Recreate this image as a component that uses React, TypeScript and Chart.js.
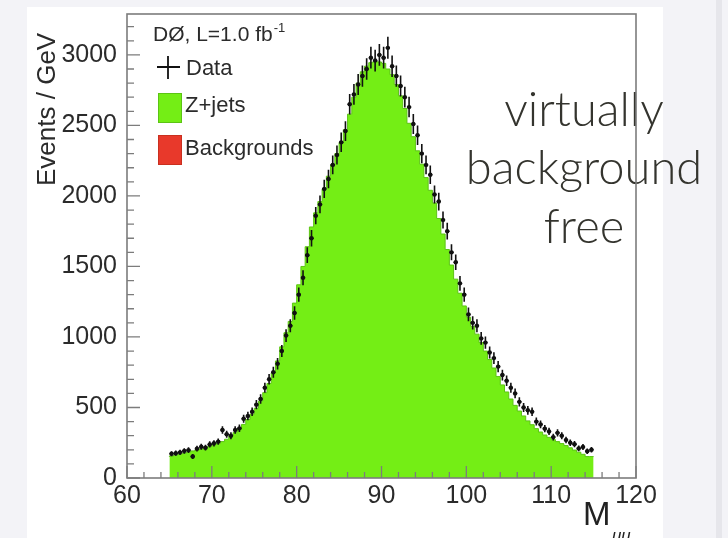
import React, { useEffect, useRef } from "react";
import { Chart, registerables } from "chart.js";

Chart.register(...registerables);

// Histogram binning (GeV)
const BIN_LOW = 65;
const BIN_WIDTH = 0.5;

// Z+jets simulation, Events / GeV, one value per 0.5 GeV bin from 65 to 115 GeV
const zJetsMC = [
  150, 156, 162, 168, 175, 184, 192, 199, 206, 214,
  224, 234, 244, 258, 275, 298, 322, 350, 380, 415,
  452, 495, 545, 605, 670, 745, 830, 930, 1030, 1110,
  1240, 1370, 1500, 1640, 1780, 1880, 1960, 2050, 2140, 2220,
  2300, 2380, 2470, 2580, 2700, 2800, 2880, 2920, 2945, 2955,
  2950, 2940, 2900, 2860, 2790, 2710, 2620, 2515, 2420, 2320,
  2225, 2130, 2040, 1950, 1840, 1730, 1620, 1510, 1410, 1310,
  1220, 1140, 1075, 1020, 960, 900, 840, 780, 720, 660,
  610, 560, 515, 475, 440, 405, 378, 350, 326, 305,
  288, 272, 258, 244, 230, 214, 198, 183, 168, 152,
];

// DØ data, Events / GeV, same bins
const dataValues = [
  172, 176, 182, 192, 198, 152, 208, 222, 215, 238,
  246, 258, 340, 310, 300, 340, 352, 420, 440, 470,
  520, 560, 640, 700, 750, 810, 900, 1010, 1080, 1170,
  1300, 1420, 1580, 1700, 1860, 1940, 2050, 2120, 2220, 2290,
  2380, 2460, 2650, 2720, 2790, 2850, 2900, 2980, 2960, 3000,
  2980, 3050, 2920, 2850, 2780, 2700, 2630, 2510, 2430, 2300,
  2220, 2150, 2010, 1960, 1830, 1750, 1600, 1530, 1380, 1300,
  1160, 1100, 1080, 990, 960, 890, 850, 790, 730, 690,
  640, 600, 540, 500, 480, 470, 400, 380, 350, 330,
  290, 320, 300, 270, 250, 240, 210, 220, 190, 200,
];

// Axes
const xTickValues = [60, 70, 80, 90, 100, 110, 120];
const yTickValues = [0, 500, 1000, 1500, 2000, 2500, 3000];
const X_MIN = 60;
const X_MAX = 120;
const X_MAJOR = 10;
const X_MINOR = 2;
const Y_MIN = 0;
const Y_MAX = 3290;
const Y_MAJOR = 500;
const Y_MINOR = 100;

// Texts
const legendHeader = "DØ, L=1.0 fb";
const legendHeaderSup = "-1";
const legendLabels = ["Data", "Z+jets", "Backgrounds"];
const yTitle = "Events / GeV";
const xTitle = "M";
const xTitleSub = "μμ";
const sideText = ["virtually", "background", "free"];

const GREEN = "#74ee15";
const GREEN_EDGE = "#5cc414";
const RED = "#e8392b";
const ROOT_FONT = "'Liberation Sans', Arial, Helvetica, sans-serif";

const rootPlugin = {
  id: "rootStyle",
  beforeDraw(chart: any) {
    const ctx = chart.ctx;
    ctx.save();
    ctx.fillStyle = "#f3f3f7";
    ctx.fillRect(0, 0, chart.width, chart.height);
    ctx.fillStyle = "#e6e6eb";
    ctx.fillRect(716, 0, 6, chart.height);
    ctx.fillStyle = "#ffffff";
    ctx.fillRect(27, 7, 636, chart.height - 7);
    ctx.restore();
  },
  afterDatasetsDraw(chart: any) {
    const ctx = chart.ctx;
    const xs = chart.scales.x;
    const ys = chart.scales.y;
    ctx.save();
    ctx.strokeStyle = "#111";
    ctx.lineWidth = 1.6;
    dataValues.forEach((v, i) => {
      const c = BIN_LOW + BIN_WIDTH * (i + 0.5);
      const err = Math.sqrt(v * BIN_WIDTH) / BIN_WIDTH;
      const px = xs.getPixelForValue(c);
      const py = ys.getPixelForValue(v);
      ctx.beginPath();
      ctx.moveTo(px, ys.getPixelForValue(v + err));
      ctx.lineTo(px, ys.getPixelForValue(v - err));
      ctx.moveTo(xs.getPixelForValue(c - BIN_WIDTH / 2), py);
      ctx.lineTo(xs.getPixelForValue(c + BIN_WIDTH / 2), py);
      ctx.stroke();
    });
    ctx.restore();
  },
  afterDraw(chart: any) {
    const ctx = chart.ctx;
    const xs = chart.scales.x;
    const ys = chart.scales.y;
    const { left, right, top, bottom } = chart.chartArea;
    ctx.save();

    // side text
    ctx.fillStyle = "#34342e";
    ctx.font = "300 47px Lato, 'Open Sans', sans-serif";
    ctx.textAlign = "center";
    ctx.textBaseline = "alphabetic";
    const sideY = [126, 184, 243];
    sideText.forEach((t, i) => ctx.fillText(t, 584, sideY[i]));

    // ticks (inside)
    ctx.strokeStyle = "#7c7c7c";
    ctx.lineWidth = 1.3;
    ctx.beginPath();
    for (let v = X_MIN; v <= X_MAX; v += X_MINOR) {
      const px = xs.getPixelForValue(v);
      const len = v % X_MAJOR === 0 ? 12 : 6;
      ctx.moveTo(px, bottom);
      ctx.lineTo(px, bottom - len);
    }
    for (let v = Y_MIN; v <= Y_MAX; v += Y_MINOR) {
      const py = ys.getPixelForValue(v);
      const len = v % Y_MAJOR === 0 ? 13 : 7;
      ctx.moveTo(left, py);
      ctx.lineTo(left + len, py);
    }
    ctx.stroke();
    // frame
    ctx.lineWidth = 1.6;
    ctx.strokeRect(left, top, right - left, bottom - top);

    // legend
    ctx.fillStyle = "#2b2b2b";
    ctx.textAlign = "left";
    ctx.textBaseline = "alphabetic";
    ctx.font = `21px ${ROOT_FONT}`;
    ctx.fillText(legendHeader, 153, 41);
    const hw = ctx.measureText(legendHeader).width;
    ctx.font = `13px ${ROOT_FONT}`;
    ctx.fillText(legendHeaderSup, 153 + hw + 1, 32);

    ctx.font = `22px ${ROOT_FONT}`;
    ctx.strokeStyle = "#111";
    ctx.lineWidth = 1.8;
    ctx.beginPath();
    ctx.moveTo(168, 56);
    ctx.lineTo(168, 79);
    ctx.moveTo(157, 67);
    ctx.lineTo(180, 67);
    ctx.stroke();
    ctx.fillText(legendLabels[0], 186, 75);

    ctx.fillStyle = GREEN;
    ctx.fillRect(158, 93, 23, 29);
    ctx.strokeStyle = GREEN_EDGE;
    ctx.lineWidth = 1;
    ctx.strokeRect(158.5, 93.5, 23, 29);
    ctx.fillStyle = "#2b2b2b";
    ctx.fillText(legendLabels[1], 185, 112);

    ctx.fillStyle = RED;
    ctx.fillRect(158, 135, 23, 29);
    ctx.strokeStyle = "#c9301f";
    ctx.strokeRect(158.5, 135.5, 23, 29);
    ctx.fillStyle = "#2b2b2b";
    ctx.fillText(legendLabels[2], 185, 155);

    // y title
    ctx.save();
    ctx.translate(55, 186);
    ctx.rotate(-Math.PI / 2);
    ctx.font = `26px ${ROOT_FONT}`;
    ctx.textAlign = "left";
    ctx.fillText(yTitle, 0, 0);
    ctx.restore();

    // x title
    ctx.fillStyle = "#222";
    ctx.font = `33px ${ROOT_FONT}`;
    ctx.fillText(xTitle, 583, 525);
    ctx.font = `italic 17px ${ROOT_FONT}`;
    ctx.fillText(xTitleSub, 612, 541);

    ctx.restore();
  },
};

const zeroPadding = (s: any) => {
  s.paddingTop = 0;
  s.paddingBottom = 0;
  s.paddingLeft = 0;
  s.paddingRight = 0;
};

export default function App() {
  const ref = useRef<HTMLCanvasElement | null>(null);

  useEffect(() => {
    document.body.style.margin = "0";
    if (!ref.current) return;

    const mcPoints = zJetsMC.map((v, i) => ({ x: BIN_LOW + BIN_WIDTH * i, y: v }));
    mcPoints.push({
      x: BIN_LOW + BIN_WIDTH * zJetsMC.length,
      y: zJetsMC[zJetsMC.length - 1],
    });
    const dataPoints = dataValues.map((v, i) => ({
      x: BIN_LOW + BIN_WIDTH * (i + 0.5),
      y: v,
    }));

    const chart = new Chart(ref.current, {
      type: "line",
      data: {
        datasets: [
          {
            label: legendLabels[0],
            data: dataPoints,
            showLine: false,
            pointRadius: 2.2,
            pointBackgroundColor: "#111",
            pointBorderColor: "#111",
            pointBorderWidth: 0,
            order: 0,
          },
          {
            label: legendLabels[1],
            data: mcPoints,
            stepped: "after",
            fill: "origin",
            backgroundColor: GREEN,
            borderColor: GREEN_EDGE,
            borderWidth: 1,
            pointRadius: 0,
            order: 1,
          },
        ],
      },
      options: {
        responsive: false,
        animation: false,
        events: [],
        layout: { padding: { left: 0, right: 92, top: 14, bottom: 0 } },
        plugins: {
          legend: { display: false },
          tooltip: { enabled: false },
        },
        scales: {
          x: {
            type: "linear",
            min: X_MIN,
            max: X_MAX,
            grid: { display: false, drawTicks: false },
            border: { display: false },
            afterBuildTicks: (s: any) => {
              s.ticks = xTickValues.map((v) => ({ value: v }));
            },
            ticks: {
              padding: 3,
              color: "#2b2b2b",
              font: { family: ROOT_FONT, size: 25 },
              maxRotation: 0,
              autoSkip: false,
              callback: (v: any) => String(v),
            },
            afterFit: (s: any) => {
              s.height = 60;
              zeroPadding(s);
            },
          },
          y: {
            type: "linear",
            min: Y_MIN,
            max: Y_MAX,
            grid: { display: false, drawTicks: false },
            border: { display: false },
            afterBuildTicks: (s: any) => {
              s.ticks = yTickValues.map((v) => ({ value: v }));
            },
            ticks: {
              padding: 10,
              color: "#2b2b2b",
              font: { family: ROOT_FONT, size: 25 },
              autoSkip: false,
              callback: (v: any) => String(v),
            },
            afterFit: (s: any) => {
              s.width = 127;
              zeroPadding(s);
            },
          },
        },
      },
      plugins: [rootPlugin],
    });

    return () => chart.destroy();
  }, []);

  return (
    <div style={{ width: 728, height: 538, overflow: "hidden" }}>
      <canvas ref={ref} width={728} height={538} style={{ display: "block" }} />
    </div>
  );
}
